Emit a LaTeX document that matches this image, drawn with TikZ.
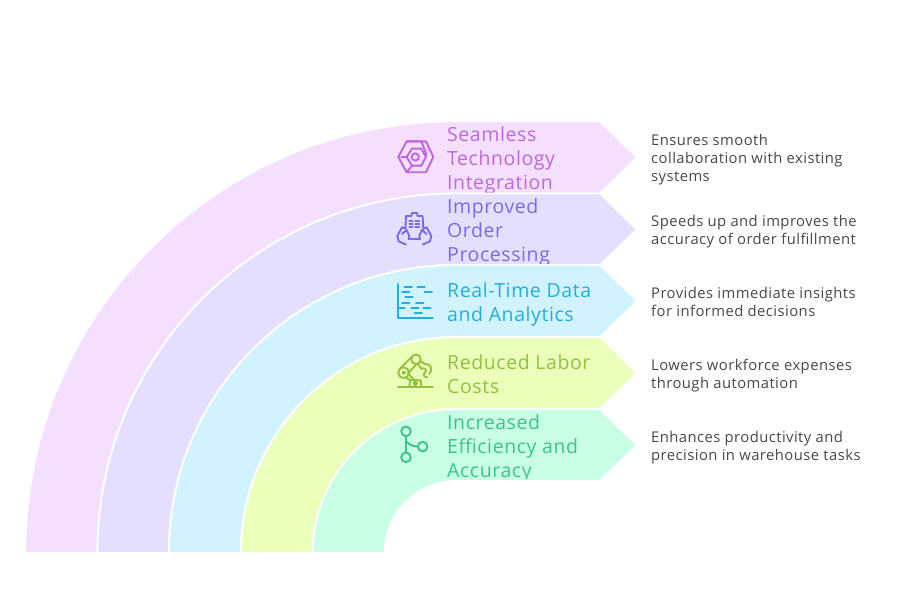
\documentclass[tikz,border=0pt]{standalone}
\usepackage{fontspec}
\setmainfont{Open Sans}
\newfontfamily\widefont[LetterSpace=3]{Open Sans}
\definecolor{bandA}{HTML}{F4DFFF}
\definecolor{bandB}{HTML}{E5DFFF}
\definecolor{bandC}{HTML}{D0F3FF}
\definecolor{bandD}{HTML}{E9FFBA}
\definecolor{bandE}{HTML}{C9FFE5}
\definecolor{inkA}{HTML}{BE66E0}
\definecolor{inkB}{HTML}{7B68EE}
\definecolor{inkC}{HTML}{22AEE0}
\definecolor{inkD}{HTML}{93C13D}
\definecolor{inkE}{HTML}{36C785}
\definecolor{inkNote}{HTML}{484848}
\begin{document}
\begin{tikzpicture}[
        x=1pt, y=1pt,
        band/.style={draw=white, line width=1.8pt},
        title/.style={anchor=west, inner sep=0pt, align=left, font=\widefont\fontsize{19.5}{24}\selectfont},
        note/.style={anchor=west, inner sep=0pt, align=left, text=inkNote, font=\widefont\fontsize{14.8}{18}\selectfont},
        icon/.style={line width=1.9pt, line cap=round, line join=round}
    ]
        \useasboundingbox (0,0) rectangle (903,602);

        % Band 1
        \fill[white] (0,0) rectangle (903,602);
        \path[band, fill=bandA] (25.3,49) -- (25.3,50) arc[start angle=180, end angle=90, radius=430.7pt] -- (600,480.7) -- (637,444.5) -- (600,408.5) -- (456,408.5) arc[start angle=90, end angle=180, radius=358.5pt] -- (97.5,49) -- cycle;
        \node[title, text=inkA] (seamless) at (447,442) {Seamless\\Technology\\Integration};
        \node[note] (seamlessnote) at (651,442) {Ensures smooth\\collaboration with existing\\systems};
        \begin{scope}[shift={(392pt,467pt)}, x=0.333pt, y=-0.333pt, icon, draw=inkA]
            \draw (19,66) -- (44,19) -- (102,19) -- (124,66) -- (102,112) -- (44,112) -- cycle;
            \draw (70,66) circle[radius=3.6pt];
            \draw (44,19) -- (88,19) -- (104,60);
            \draw (44,66) -- (60,41) -- (88,41) -- (102,66) -- (88,92) -- (60,92) -- cycle;
            \draw (44,66) -- (28,66);
            \draw (60,92) -- (44,112);
        \end{scope}

        % Band 2
        \path[band, fill=bandB] (97.5,49) -- (97.5,50) arc[start angle=180, end angle=90, radius=358.5pt] -- (600,408.5) -- (637,372.5) -- (600,337) -- (456,337) arc[start angle=90, end angle=180, radius=287pt] -- (169,49) -- cycle;
        \node[title, text=inkB] (order) at (447,370) {Improved\\Order\\Processing};
        \node[note] (ordernote) at (651,370) {Speeds up and improves the\\accuracy of order fulfillment};
        \begin{scope}[shift={(392pt,394pt)}, x=0.333pt, y=-0.333pt, icon, draw=inkB]
            \draw (40,62) -- (42,24) -- (58,24) -- (60,15) -- (75,15) -- (77,24) -- (92,24) -- (94,62);
            \draw (50,92) -- (84,92);
            \draw (52,38) -- (62,38) (70,38) -- (82,38);
            \draw (52,48) -- (62,48) (70,48) -- (82,48);
            \draw (52,58) -- (62,58) (70,58) -- (82,58);
            \draw (42,110) -- (20,100) -- (16,84) -- (30,58) -- (40,62);
            \draw (30,78) -- (44,66) -- (52,84) -- (50,92);
            \draw (92,110) -- (114,100) -- (118,84) -- (104,58) -- (94,62);
            \draw (104,78) -- (90,66) -- (82,84) -- (84,92);
        \end{scope}

        % Band 3
        \path[band, fill=bandC] (169,49) -- (169,50) arc[start angle=180, end angle=90, radius=287pt] -- (600,337) -- (637,301) -- (600,265) -- (456,265) arc[start angle=90, end angle=180, radius=215pt] -- (241,49) -- cycle;
        \node[title, text=inkC] (data) at (447,298) {Real-Time Data\\and Analytics};
        \node[note] (datanote) at (651,300) {Provides immediate insights\\for informed decisions};
        \begin{scope}[shift={(392pt,322pt)}, x=0.333pt, y=-0.333pt, icon, draw=inkC]
            \draw (18,12) -- (18,114) -- (122,114);
            \draw (38,20) -- (60,20) (76,20) -- (98,20);
            \draw (30,37) -- (52,37) (98,37) -- (120,37);
            \draw (40,52) -- (62,52);
            \draw (30,68) -- (52,68) (72,68) -- (94,68);
            \draw (18,84) -- (38,84) (58,84) -- (80,84) (94,84) -- (116,84);
            \draw (68,100) -- (90,100);
        \end{scope}

        % Band 4
        \path[band, fill=bandD] (241,49) -- (241,50) arc[start angle=180, end angle=90, radius=215pt] -- (600,265) -- (637,229) -- (600,193) -- (456,193) arc[start angle=90, end angle=180, radius=143pt] -- (313,49) -- cycle;
        \node[title, text=inkD] (labor) at (447,228) {Reduced Labor\\Costs};
        \node[note] (labornote) at (651,226) {Lowers workforce expenses\\through automation};
        \begin{scope}[shift={(392pt,250pt)}, x=0.333pt, y=-0.333pt, icon, draw=inkD]
            \draw (18,105) -- (122,105);
            \draw (52,105) -- (54,85) -- (86,85) -- (88,105);
            \draw (70,94) circle[radius=1.8pt];
            \draw (35,62) circle[radius=5.4pt];
            \draw (35,62) circle[radius=1.2pt];
            \draw (72,22) circle[radius=4.8pt];
            \draw (24,50) -- (60,14);
            \draw (48,64) -- (72,38);
            \draw (42,78) -- (58,85);
            \draw (49,66) -- (68,85);
            \draw (86,28) -- (98,36);
            \draw (78,37) -- (88,50);
            \draw (98,36) .. controls (116,34) and (124,52) .. (112,66);
            \draw (88,50) .. controls (98,46) and (106,54) .. (100,60);
            \draw (100,60) .. controls (92,68) and (96,76) .. (106,76);
        \end{scope}

        % Band 5
        \path[band, fill=bandE] (313,49) -- (313,50) arc[start angle=180, end angle=90, radius=143pt] -- (600,193) -- (637,157) -- (600,121) -- (456,121) arc[start angle=90, end angle=180, radius=71pt] -- (385,49) -- cycle;
        \begin{scope}
            \clip (440,123) rectangle (600,193);
            \node[title, text=inkE] (effic) at (447,154) {Increased\\Efficiency and\\Accuracy};
        \end{scope}
        \node[note] (efficnote) at (651,154) {Enhances productivity and\\precision in warehouse tasks};
        \begin{scope}[shift={(392pt,178pt)}, x=0.333pt, y=-0.333pt, icon, draw=inkE]
            \draw (42,22) circle[radius=4.8pt];
            \draw (42,100) circle[radius=4.8pt];
            \draw (92,68) circle[radius=4.8pt];
            \draw (42,36) -- (42,86);
            \draw (42,52) .. controls (52,62) and (65,68) .. (78,68);
        \end{scope}
    \end{tikzpicture}
\end{document}
